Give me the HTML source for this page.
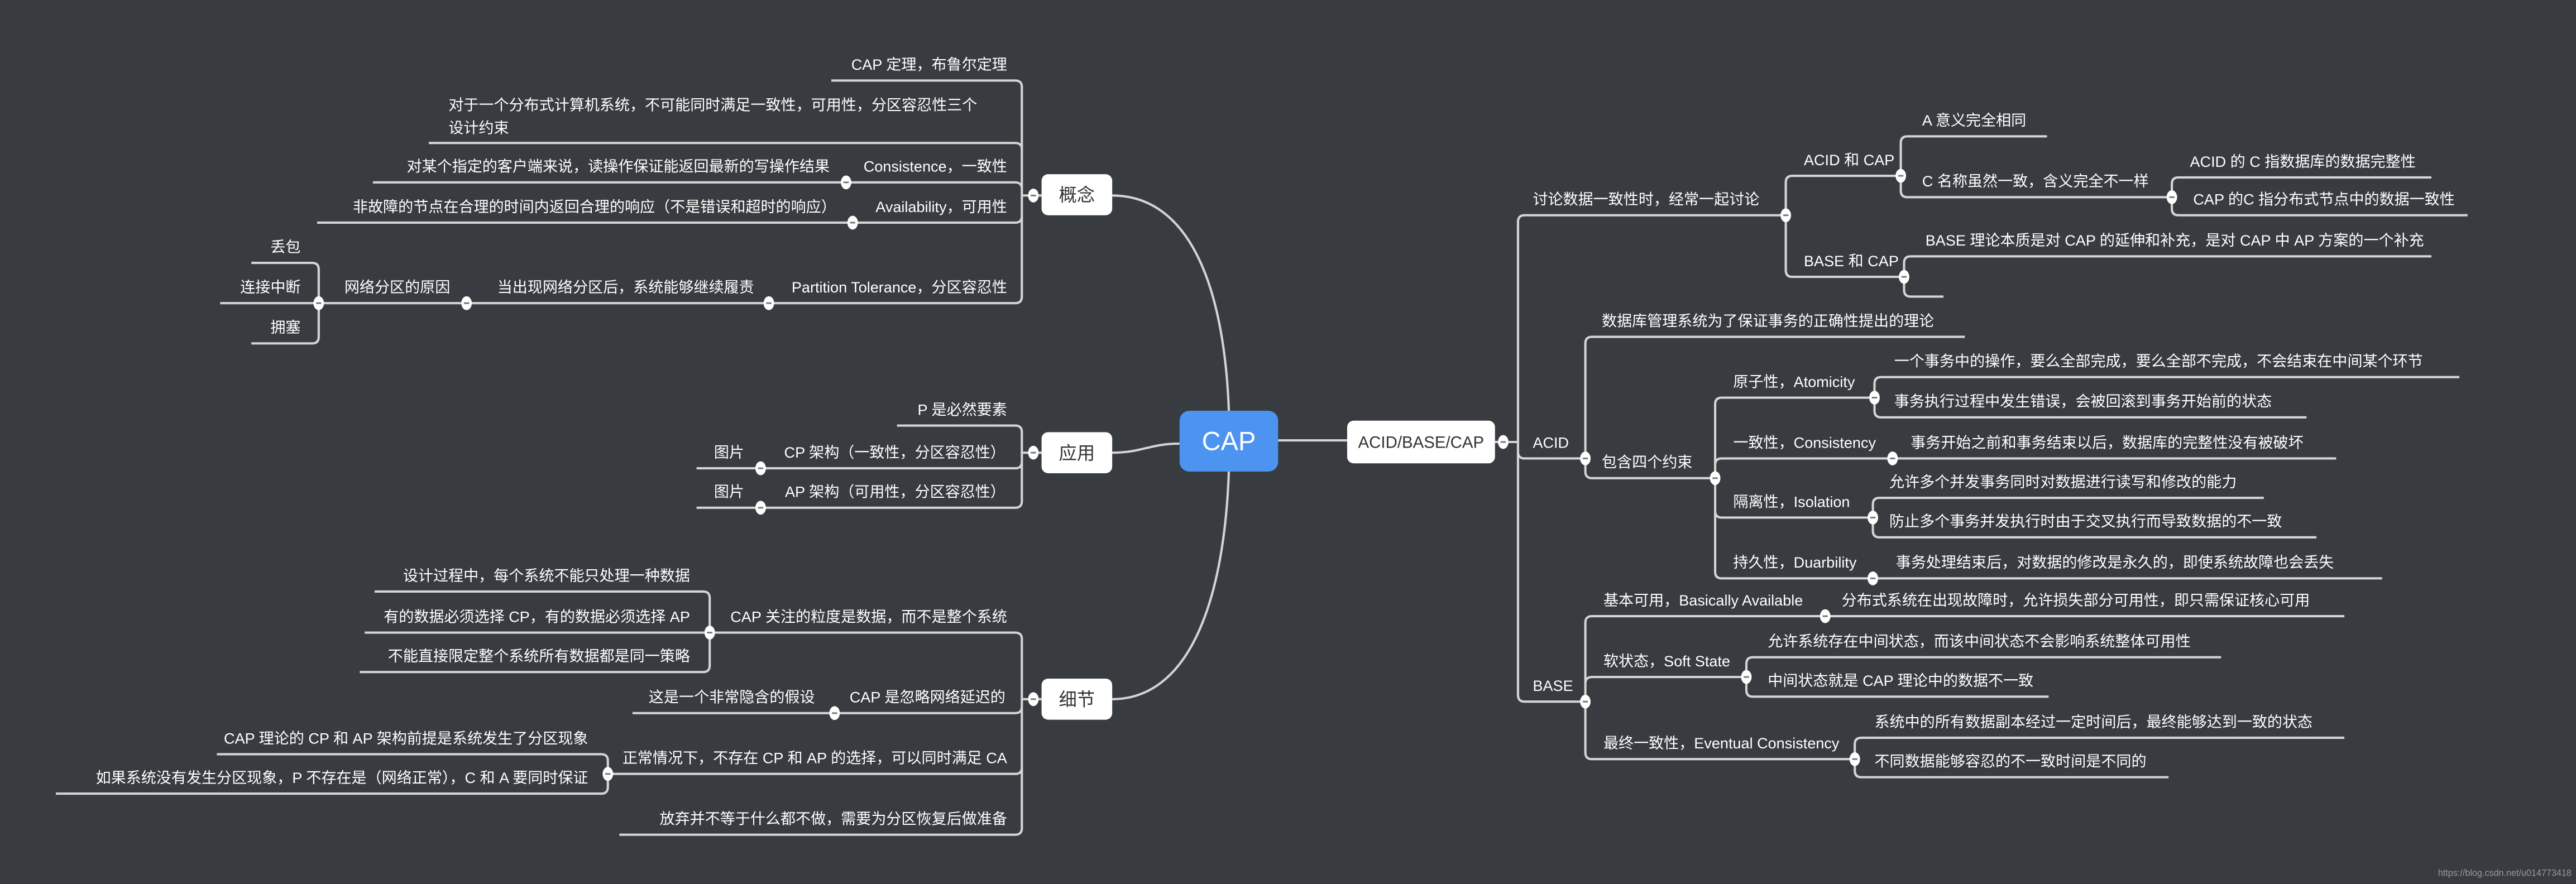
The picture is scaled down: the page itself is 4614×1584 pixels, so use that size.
<!DOCTYPE html>
<html><head><meta charset="utf-8"><style>
html,body{margin:0;padding:0;background:#383b40;overflow:hidden}
svg{display:block}
text{font-family:"Liberation Sans","Noto Sans CJK SC",sans-serif;font-size:9.2px;fill:#ffffff}
.e{text-anchor:end}
.n{fill:#333;font-size:11px;text-anchor:middle}
.l{fill:none;stroke:#d4d4d4;stroke-width:1.4}
</style></head><body>
<svg width="4614" height="1584" viewBox="0 0 1568 538" preserveAspectRatio="none">
<defs><g id="d"><ellipse cx="0" cy="0" rx="3.2" ry="4.2" fill="#fff"/><line x1="-1.6" y1="0" x2="1.6" y2="0" stroke="#777" stroke-width="1"/></g></defs>
<rect width="1568" height="538" fill="#383b40"/>
<g class="l">
<path d="M748,250 C745,170 722,119 677,119"/>
<path d="M718,270 C700,270 695,275.5 677,275.5"/>
<path d="M748,287 C745,370 722,425.5 677,425.5"/>
<path d="M622,53Q622,49 618,49H506 M622,91Q622,87 618,87H261 M622,115Q622,111 618,111H227 M622,131.5Q622,135.5 618,135.5H193 M622,180.5Q622,184.5 618,184.5H194 M622,53V180.5 M622,119H635"/>
<path d="M194,164Q194,160 190,160H153 M194,184.5H134 M194,205Q194,209 190,209H153 M194,164V205"/>
<path d="M622,263Q622,259 618,259H546 M622,281Q622,285 618,285H424 M622,305Q622,309 618,309H424 M622,263V305 M622,275.5H634"/>
<path d="M622,389Q622,385 618,385H432 M622,430Q622,434 618,434H385 M622,467Q622,471 618,471H370 M622,504Q622,508 618,508H377 M622,389V504 M622,425.5H634"/>
<path d="M432,364Q432,360 428,360H228 M432,385H222 M432,405Q432,409 428,409H219 M432,364V405"/>
<path d="M370,463Q370,459 366,459H132 M370,479Q370,483 366,483H34 M370,463V479"/>
<path d="M778,268H820 M910,269H924"/>
<path d="M924,135Q924,131 928,131H1087 M924,275Q924,279 928,279H965 M924,423Q924,427 928,427H965 M924,135V423"/>
<path d="M1087,111Q1087,107 1091,107H1157 M1087,164.5Q1087,168.5 1091,168.5H1159 M1087,111V164.5"/>
<path d="M1157,87Q1157,83 1161,83H1246 M1157,116Q1157,120 1161,120H1322 M1157,87V116"/>
<path d="M1322,112Q1322,108 1326,108H1480 M1322,127Q1322,131 1326,131H1502 M1322,112V127"/>
<path d="M1159,160Q1159,156 1163,156H1480 M1159,176.5Q1159,180.5 1163,180.5H1183 M1159,160V176.5"/>
<path d="M965,209Q965,205 969,205H1196 M965,287Q965,291 969,291H1044 M965,209V287"/>
<path d="M1044,246Q1044,242 1048,242H1141 M1044,283Q1044,279 1048,279H1422 M1044,311Q1044,315 1048,315H1140 M1044,348Q1044,352 1048,352H1450 M1044,246V348"/>
<path d="M1141,233.5Q1141,229.5 1145,229.5H1497 M1141,250Q1141,254 1145,254H1404 M1141,233.5V250"/>
<path d="M1140,307Q1140,303 1144,303H1378 M1140,323Q1140,327 1144,327H1410 M1140,307V323"/>
<path d="M965,379Q965,375 969,375H1427 M965,416Q965,412 969,412H1063 M965,458Q965,462 969,462H1129 M965,379V458"/>
<path d="M1063,404Q1063,400 1067,400H1352 M1063,420Q1063,424 1067,424H1247 M1063,404V420"/>
<path d="M1129,453Q1129,449 1133,449H1427 M1129,469Q1129,473 1133,473H1320 M1129,453V469"/>
</g>
<g>
<use href="#d" x="629" y="119"/><use href="#d" x="515" y="111"/><use href="#d" x="519" y="135.5"/><use href="#d" x="468" y="184.5"/><use href="#d" x="284" y="184.5"/><use href="#d" x="194" y="184.5"/><use href="#d" x="629" y="275.5"/><use href="#d" x="463" y="285"/><use href="#d" x="463" y="309"/><use href="#d" x="629" y="425.5"/><use href="#d" x="432" y="385"/><use href="#d" x="508" y="434"/><use href="#d" x="370" y="471"/><use href="#d" x="915" y="269"/><use href="#d" x="1087" y="131"/><use href="#d" x="1157" y="107"/><use href="#d" x="1322" y="120"/><use href="#d" x="1159" y="168.5"/><use href="#d" x="965" y="279"/><use href="#d" x="1044" y="291"/><use href="#d" x="1141" y="242"/><use href="#d" x="1152" y="279"/><use href="#d" x="1140" y="315"/><use href="#d" x="1140" y="352"/><use href="#d" x="965" y="427"/><use href="#d" x="1111" y="375"/><use href="#d" x="1063" y="412"/><use href="#d" x="1129" y="462"/>
</g>
<rect x="718" y="250" width="60" height="37" rx="6" fill="#4d94f0"/>
<text x="748" y="274" style="font-size:16px;text-anchor:middle">CAP</text>
<rect x="634" y="106" width="43" height="25" rx="4" fill="#fff"/><text class="n" x="655.5" y="122.5">概念</text>
<rect x="634" y="263" width="43" height="25" rx="4" fill="#fff"/><text class="n" x="655.5" y="279.5">应用</text>
<rect x="634" y="413" width="43" height="25" rx="4" fill="#fff"/><text class="n" x="655.5" y="429.5">细节</text>
<rect x="820" y="256" width="90" height="26" rx="4" fill="#fff"/><text class="n" x="865" y="272.5" style="font-size:10px">ACID/BASE/CAP</text>

<text class="e" x="613" y="42.5">CAP 定理，布鲁尔定理</text>
<text x="273" y="67">对于一个分布式计算机系统，不可能同时满足一致性，可用性，分区容忍性三个</text>
<text x="273" y="81">设计约束</text>
<text class="e" x="613" y="104.5">Consistence，一致性</text>
<text class="e" x="505" y="104.5">对某个指定的客户端来说，读操作保证能返回最新的写操作结果</text>
<text class="e" x="613" y="129">Availability，可用性</text>
<text class="e" x="509" y="129">非故障的节点在合理的时间内返回合理的响应（不是错误和超时的响应）</text>
<text class="e" x="613" y="178">Partition Tolerance，分区容忍性</text>
<text class="e" x="459" y="178">当出现网络分区后，系统能够继续履责</text>
<text class="e" x="274" y="178">网络分区的原因</text>
<text class="e" x="183" y="153.5">丢包</text>
<text class="e" x="183" y="178">连接中断</text>
<text class="e" x="183" y="202.5">拥塞</text>
<text class="e" x="613" y="252.5">P 是必然要素</text>
<text class="e" x="612" y="278.5">CP 架构（一致性，分区容忍性）</text>
<text class="e" x="453" y="278.5">图片</text>
<text class="e" x="612" y="302.5">AP 架构（可用性，分区容忍性）</text>
<text class="e" x="453" y="302.5">图片</text>
<text class="e" x="613" y="378.5">CAP 关注的粒度是数据，而不是整个系统</text>
<text class="e" x="420" y="353.5">设计过程中，每个系统不能只处理一种数据</text>
<text class="e" x="420" y="378.5">有的数据必须选择 CP，有的数据必须选择 AP</text>
<text class="e" x="420" y="402.5">不能直接限定整个系统所有数据都是同一策略</text>
<text class="e" x="612" y="427.5">CAP 是忽略网络延迟的</text>
<text class="e" x="496" y="427.5">这是一个非常隐含的假设</text>
<text class="e" x="613" y="464.5">正常情况下，不存在 CP 和 AP 的选择，可以同时满足 CA</text>
<text class="e" x="358" y="452.5">CAP 理论的 CP 和 AP 架构前提是系统发生了分区现象</text>
<text class="e" x="358" y="476.5">如果系统没有发生分区现象，P 不存在是（网络正常），C 和 A 要同时保证</text>
<text class="e" x="613" y="501.5">放弃并不等于什么都不做，需要为分区恢复后做准备</text>

<text x="933" y="124.5">讨论数据一致性时，经常一起讨论</text>
<text x="1098" y="100.5">ACID 和 CAP</text>
<text x="1170" y="76.5">A 意义完全相同</text>
<text x="1170" y="113.5">C 名称虽然一致，含义完全不一样</text>
<text x="1333" y="101.5">ACID 的 C 指数据库的数据完整性</text>
<text x="1335" y="124.5">CAP 的C 指分布式节点中的数据一致性</text>
<text x="1098" y="162">BASE 和 CAP</text>
<text x="1172" y="149.5">BASE 理论本质是对 CAP 的延伸和补充，是对 CAP 中 AP 方案的一个补充</text>
<text x="933" y="272.5">ACID</text>
<text x="975" y="198.5">数据库管理系统为了保证事务的正确性提出的理论</text>
<text x="975" y="284.5">包含四个约束</text>
<text x="1055" y="235.5">原子性，Atomicity</text>
<text x="1153" y="223">一个事务中的操作，要么全部完成，要么全部不完成，不会结束在中间某个环节</text>
<text x="1153" y="247.5">事务执行过程中发生错误，会被回滚到事务开始前的状态</text>
<text x="1055" y="272.5">一致性，Consistency</text>
<text x="1163" y="272.5">事务开始之前和事务结束以后，数据库的完整性没有被破坏</text>
<text x="1055" y="308.5">隔离性，Isolation</text>
<text x="1150" y="296.5">允许多个并发事务同时对数据进行读写和修改的能力</text>
<text x="1150" y="320.5">防止多个事务并发执行时由于交叉执行而导致数据的不一致</text>
<text x="1055" y="345.5">持久性，Duarbility</text>
<text x="1154" y="345.5">事务处理结束后，对数据的修改是永久的，即使系统故障也会丢失</text>
<text x="933" y="420.5">BASE</text>
<text x="976" y="368.5">基本可用，Basically Available</text>
<text x="1121" y="368.5">分布式系统在出现故障时，允许损失部分可用性，即只需保证核心可用</text>
<text x="976" y="405.5">软状态，Soft State</text>
<text x="1076" y="393.5">允许系统存在中间状态，而该中间状态不会影响系统整体可用性</text>
<text x="1076" y="417.5">中间状态就是 CAP 理论中的数据不一致</text>
<text x="976" y="455.5">最终一致性，Eventual Consistency</text>
<text x="1141" y="442.5">系统中的所有数据副本经过一定时间后，最终能够达到一致的状态</text>
<text x="1141" y="466.5">不同数据能够容忍的不一致时间是不同的</text>
<text x="1484" y="533" style="font-size:5.5px;fill:#9a9a9a">https://blog.csdn.net/u014773418</text>
</svg>
</body></html>
